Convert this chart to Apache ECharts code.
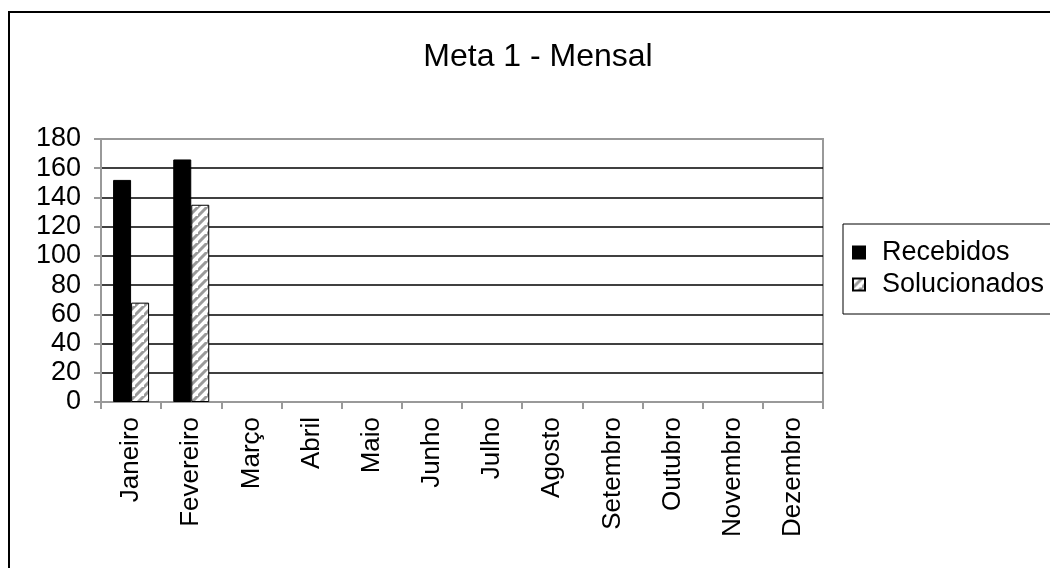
<!DOCTYPE html>
<html>
<head>
<meta charset="utf-8">
<script src="https://cdn.jsdelivr.net/npm/echarts@6/dist/echarts.min.js"></script>
<style>
html,body{margin:0;padding:0;background:#fff;}
#chart{width:1050px;height:568px;}
</style>
</head>
<body>
<div id="chart"></div>
<script>
const titleText = 'Meta 1 - Mensal';
const months = ['Janeiro','Fevereiro','Março','Abril','Maio','Junho','Julho','Agosto','Setembro','Outubro','Novembro','Dezembro'];
const recebidos = [152, 166, null, null, null, null, null, null, null, null, null, null];
const solucionados = [68, 135, null, null, null, null, null, null, null, null, null, null];
const seriesNames = ['Recebidos', 'Solucionados'];

function makeHatch() {
  const c = document.createElement('canvas');
  const s = 9;
  c.width = s; c.height = s;
  const g = c.getContext('2d');
  g.fillStyle = '#fff';
  g.fillRect(0, 0, s, s);
  g.strokeStyle = '#9a9a9a';
  g.lineWidth = 3;
  g.beginPath();
  g.moveTo(-2, s + 2); g.lineTo(s + 2, -2);
  g.moveTo(-2 - s, s + 2); g.lineTo(2, -2);
  g.moveTo(-2 + s, 2 * s + 2); g.lineTo(2 * s + 2, s - 2);
  g.stroke();
  return c;
}
const hatch = { image: makeHatch(), repeat: 'repeat' };

const font = 'Liberation Sans, Arial, sans-serif';
const chart = echarts.init(document.getElementById('chart'), null, { renderer: 'canvas' });
const splitColors = ['#999', '#000', '#000', '#000', '#000', '#000', '#000', '#000', '#000', '#999'];
chart.setOption({
  animation: false,
  backgroundColor: '#fff',
  title: {
    text: titleText,
    left: 533, top: 36, textAlign: 'center',
    textStyle: { fontFamily: font, fontSize: 32, fontWeight: 'normal', color: '#000' }
  },
  graphic: [{
    type: 'rect', shape: { x: 9, y: 12, width: 1200, height: 700 },
    style: { fill: 'none', stroke: '#000', lineWidth: 2 }, silent: true, z: 100
  }],
  legend: {
    orient: 'vertical', left: 843, top: 224,
    borderColor: '#000', borderWidth: 1,
    padding: [15, 30, 16, 9],
    itemGap: 5, itemWidth: 12, itemHeight: 12,
    icon: 'rect',
    textStyle: { fontFamily: font, fontSize: 27, color: '#000', lineHeight: 22, padding: [0, 0, 0, 12] },
    data: seriesNames
  },
  grid: { left: 101, right: 227, top: 139, bottom: 166, show: true, borderColor: '#999', borderWidth: 2, containLabel: false },
  xAxis: {
    type: 'category', data: months, boundaryGap: true,
    axisLine: { lineStyle: { color: '#999', width: 2 } },
    axisTick: { show: true, alignWithLabel: false, length: 7, lineStyle: { color: '#999', width: 2 } },
    axisLabel: { rotate: 90, interval: 0, margin: 15, fontFamily: font, fontSize: 26, color: '#000' }
  },
  yAxis: {
    type: 'value', min: 0, max: 180, interval: 20,
    axisLine: { show: true, lineStyle: { color: '#999', width: 2 } },
    axisTick: { show: true, length: 7, lineStyle: { color: '#999', width: 2 } },
    axisLabel: { margin: 20, fontFamily: font, fontSize: 27, color: '#000' },
    splitLine: { show: true, lineStyle: { color: splitColors, width: 1.5 } }
  },
  series: [
    { name: seriesNames[0], type: 'bar', data: recebidos, barWidth: 18, barGap: '0%',
      itemStyle: { color: '#000', borderColor: '#000', borderWidth: 1 } },
    { name: seriesNames[1], type: 'bar', data: solucionados, barWidth: 18,
      itemStyle: { color: hatch, borderColor: '#000', borderWidth: 1 } }
  ]
});
</script>
</body>
</html>
